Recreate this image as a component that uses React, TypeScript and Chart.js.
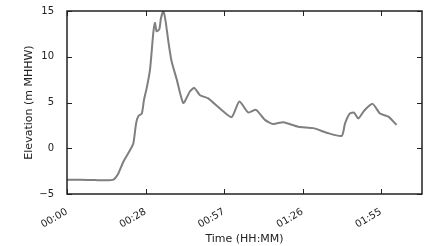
import React, { useEffect, useRef } from "react";
import { Chart, registerables } from "chart.js";

Chart.register(...registerables);

const timeMinutes = [
  0, 4.8, 10.3, 13.9, 17.0, 18.8, 20.6, 23.1, 24.3, 25.3, 26.1, 27.4, 28.2, 29.2,
  30.4, 31.6, 32.2, 32.8, 33.8, 34.4, 35.3, 36.1, 37.1, 38.3, 40.2, 42.6, 45.0,
  46.6, 48.7, 51.7, 56.0, 60.3, 63.1, 66.4, 69.2, 72.5, 75.5, 79.2, 84.7, 90.2,
  95.1, 100.6, 101.8, 103.6, 105.1, 106.7, 108.8, 111.9, 114.6, 117.7, 120.7,
];
const elevation = [
  -3.45, -3.45, -3.48, -3.5, -3.42, -2.75, -1.5, -0.2, 0.55, 2.7, 3.5, 3.8, 5.3,
  6.6, 8.6, 12.6, 13.7, 12.8, 13.0, 14.2, 15.0, 13.9, 11.7, 9.5, 7.5, 4.95, 6.2,
  6.6, 5.8, 5.45, 4.35, 3.4, 5.1, 3.9, 4.2, 3.1, 2.65, 2.85, 2.35, 2.2, 1.7,
  1.35, 2.7, 3.8, 3.9, 3.25, 4.1, 4.85, 3.8, 3.45, 2.55,
];
const xTickValues = [0, 28.75, 57.5, 86.25, 115];
const xTickLabels = ["00:00", "00:28", "00:57", "01:26", "01:55"];
const yTickValues = [-5, 0, 5, 10, 15];

const FONT = "'DejaVu Sans', sans-serif";

const framePlugin = {
  id: "frame",
  afterDraw(chart: any) {
    const { ctx, chartArea, scales } = chart;
    const { left, right, top, bottom } = chartArea;
    const len = 5;
    ctx.save();
    ctx.strokeStyle = "#222";
    ctx.lineWidth = 1.5;
    ctx.strokeRect(left, top, right - left, bottom - top);
    ctx.lineWidth = 1;
    ctx.beginPath();
    for (const v of xTickValues) {
      const x = Math.round(scales.x.getPixelForValue(v)) + 0.5;
      ctx.moveTo(x, bottom);
      ctx.lineTo(x, bottom - len);
      ctx.moveTo(x, top);
      ctx.lineTo(x, top + len);
    }
    for (const v of yTickValues) {
      const y = Math.round(scales.y.getPixelForValue(v)) + 0.5;
      ctx.moveTo(left, y);
      ctx.lineTo(left + len, y);
      ctx.moveTo(right, y);
      ctx.lineTo(right - len, y);
    }
    ctx.stroke();
    ctx.restore();
  },
};

export default function App() {
  const ref = useRef<HTMLCanvasElement | null>(null);
  useEffect(() => {
    if (!ref.current) return;
    const chart = new Chart(ref.current, {
      type: "line",
      data: {
        datasets: [
          {
            data: timeMinutes.map((t, i) => ({ x: t, y: elevation[i] })),
            borderColor: "#7f7f7f",
            borderWidth: 2,
            pointRadius: 0,
            tension: 0.2,
            fill: false,
          },
        ],
      },
      options: {
        animation: false,
        responsive: false,
        devicePixelRatio: 1,
        layout: { padding: { left: 20, top: 11, right: 3, bottom: 0 } },
        plugins: { legend: { display: false }, tooltip: { enabled: false } },
        scales: {
          x: {
            type: "linear",
            min: 0,
            max: 130,
            afterFit: (s: any) => {
              s.height = 52;
            },
            afterBuildTicks: (s: any) => {
              s.ticks = xTickValues.map((v) => ({ value: v }));
            },
            grid: { display: false },
            border: { display: false },
            ticks: {
              maxRotation: 30,
              minRotation: 30,
              autoSkip: false,
              padding: 4,
              color: "#222",
              font: { family: FONT, size: 10 },
              callback: (_v: any, i: number) => xTickLabels[i],
            },
            title: {
              display: true,
              text: "Time (HH:MM)",
              color: "#222",
              font: { family: FONT, size: 11 },
              padding: { top: 0, bottom: 0 },
            },
          },
          y: {
            type: "linear",
            min: -5,
            max: 15,
            afterFit: (s: any) => {
              s.width = 47;
            },
            afterBuildTicks: (s: any) => {
              s.ticks = yTickValues.map((v) => ({ value: v }));
            },
            grid: { display: false },
            border: { display: false },
            ticks: {
              padding: 5,
              color: "#222",
              font: { family: FONT, size: 10 },
              callback: (v: any) => (v < 0 ? "\u2212" + Math.abs(v) : String(v)),
            },
            title: {
              display: true,
              text: "Elevation (m MHHW)",
              color: "#222",
              font: { family: FONT, size: 11 },
              padding: { top: 3, bottom: 0 },
            },
          },
        },
      },
      plugins: [framePlugin],
    });
    return () => chart.destroy();
  }, []);
  return (
    <div style={{ position: "absolute", left: 0, top: 0, width: 425, height: 246, background: "#fff" }}>
      <canvas ref={ref} width={425} height={246} />
    </div>
  );
}
